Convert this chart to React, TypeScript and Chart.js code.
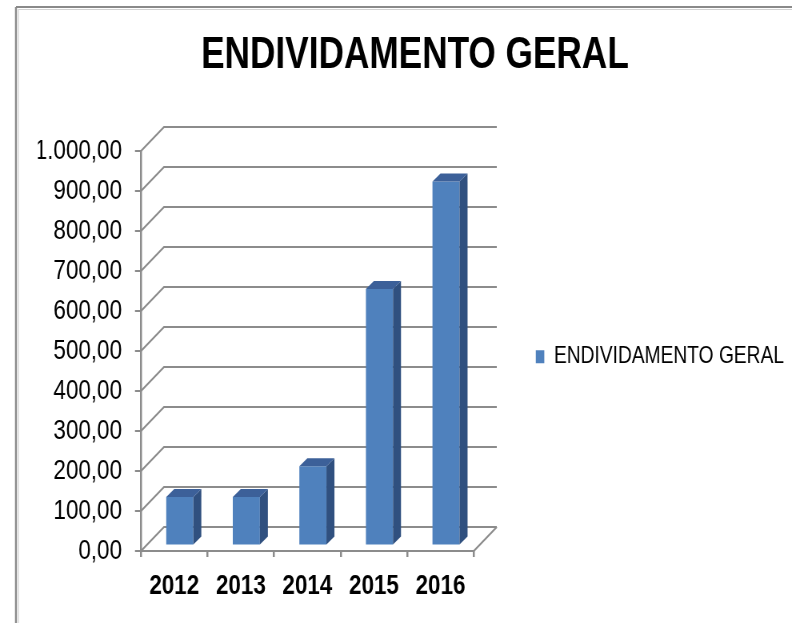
import React, { useEffect, useRef } from 'react';
import { Chart, registerables } from 'chart.js';

Chart.register(...registerables);

// ---- data ----
const categories = ['2012', '2013', '2014', '2015', '2016'];
const debtValues = [121, 121, 198, 641, 910];
const seriesLabel = 'ENDIVIDAMENTO GERAL';
const chartTitle = 'ENDIVIDAMENTO GERAL';
const yMin = 0;
const yMax = 1000;
const yStep = 100;

function formatPtBR(v: number): string {
  const fixed = Number(v).toFixed(2);
  const [intPart, dec] = fixed.split('.');
  const intFmt = intPart.replace(/\B(?=(\d{3})+(?!\d))/g, '.');
  return intFmt + ',' + dec;
}

// ---- layout / styles ----
// The canvas is drawn wider and squeezed horizontally to reproduce the
// condensed lettering of the original picture.
const CSS_W = 792;
const CSS_H = 623;
const S = 0.8;
const hx = (v: number) => v / S; // css px -> internal horizontal px
const INT_W = Math.round(CSS_W / S);

const FONT = "'Liberation Sans', Arial, sans-serif";
const GRID = '#8c8c8c';
const WALL_DX = hx(23);
const WALL_DY = 24;
const BAR_DX = hx(5.5);
const BAR_DY = 5.5;
const BAR_DEPTH_X = hx(8);
const BAR_DEPTH_Y = 8;
const FRONT = '#4F81BD';
const SIDE = '#30507f';
const TOP = '#3c6099';

const threeD = {
  id: 'threeD',
  beforeDraw(chart: any) {
    const { ctx, width, height } = chart;
    ctx.save();
    ctx.strokeStyle = '#d2d2d2';
    ctx.lineWidth = 1.2;
    ctx.beginPath();
    ctx.moveTo(hx(18.5), height);
    ctx.lineTo(hx(18.5), 9.5);
    ctx.lineTo(width, 9.5);
    ctx.stroke();
    ctx.strokeStyle = '#8a8a8a';
    ctx.beginPath();
    ctx.lineWidth = hx(2);
    ctx.moveTo(hx(16), height);
    ctx.lineTo(hx(16), 7);
    ctx.stroke();
    ctx.beginPath();
    ctx.lineWidth = 2;
    ctx.moveTo(hx(16), 7);
    ctx.lineTo(width, 7);
    ctx.stroke();
    ctx.restore();
  },
  beforeDatasetsDraw(chart: any) {
    const { ctx, chartArea: a, scales } = chart;
    const y = scales.y;
    ctx.save();
    ctx.strokeStyle = GRID;
    ctx.lineWidth = 2.2;
    for (let v = yMin; v <= yMax; v += yStep) {
      const py = y.getPixelForValue(v);
      ctx.beginPath();
      ctx.moveTo(a.left, py);
      ctx.lineTo(a.left + WALL_DX, py - WALL_DY);
      ctx.lineTo(a.right + WALL_DX, py - WALL_DY);
      ctx.stroke();
    }
    const by = y.getPixelForValue(yMin);
    ctx.beginPath();
    ctx.moveTo(a.right, by);
    ctx.lineTo(a.right + WALL_DX, by - WALL_DY);
    ctx.stroke();
    ctx.restore();
    ctx.save();
    ctx.translate(BAR_DX, -BAR_DY);
  },
  afterDatasetsDraw(chart: any) {
    const { ctx } = chart;
    const meta = chart.getDatasetMeta(0);
    meta.data.forEach((bar: any) => {
      const { x, y, base, width } = bar.getProps(['x', 'y', 'base', 'width'], true);
      const l = x - width / 2;
      const r = x + width / 2;
      const top = Math.min(y, base);
      const bot = Math.max(y, base);
      ctx.fillStyle = SIDE;
      ctx.beginPath();
      ctx.moveTo(r, top);
      ctx.lineTo(r + BAR_DEPTH_X, top - BAR_DEPTH_Y);
      ctx.lineTo(r + BAR_DEPTH_X, bot - BAR_DEPTH_Y);
      ctx.lineTo(r, bot);
      ctx.closePath();
      ctx.fill();
      ctx.fillStyle = TOP;
      ctx.beginPath();
      ctx.moveTo(l, top);
      ctx.lineTo(l + BAR_DEPTH_X, top - BAR_DEPTH_Y);
      ctx.lineTo(r + BAR_DEPTH_X, top - BAR_DEPTH_Y);
      ctx.lineTo(r, top);
      ctx.closePath();
      ctx.fill();
    });
    ctx.restore();
  },
};

export default function App() {
  const canvasRef = useRef<HTMLCanvasElement | null>(null);

  useEffect(() => {
    document.body.style.margin = '0';
    const canvas = canvasRef.current;
    if (!canvas) return;
    const chartLeft = hx(141);
    const chartRight = hx(473);
    const padLeft = hx(38);
    const legendBoxX = hx(535);
    const chart = new Chart(canvas, {
      type: 'bar',
      data: {
        labels: categories,
        datasets: [
          {
            label: seriesLabel,
            data: debtValues,
            backgroundColor: FRONT,
            borderWidth: 0,
            barPercentage: 0.407,
            categoryPercentage: 1,
            clip: false as any,
          },
        ],
      },
      options: {
        responsive: false,
        animation: false,
        devicePixelRatio: 1,
        layout: { padding: { left: padLeft, right: 0, top: 0, bottom: 0 } },
        plugins: {
          title: {
            display: true,
            text: chartTitle,
            color: '#000',
            font: { family: FONT, size: 44, weight: 'bold' },
            padding: { top: 29.6, bottom: 68.6 },
          },
          legend: {
            position: 'right',
            maxWidth: INT_W - chartRight,
            title: { display: true, text: '', padding: { top: 0, bottom: 76 } },
            labels: {
              boxWidth: hx(8.5),
              boxHeight: 13,
              padding: legendBoxX - chartRight,
              color: '#000',
              font: { family: FONT, size: 24 },
            },
          },
          tooltip: { enabled: false },
        },
        scales: {
          x: {
            grid: {
              display: true,
              drawOnChartArea: false,
              drawTicks: true,
              tickLength: 6,
              color: GRID,
              lineWidth: hx(2),
              offset: true,
            },
            border: { display: true, color: GRID, width: 2 },
            ticks: {
              color: '#000',
              font: { family: FONT, size: 28, weight: 'bold' },
              padding: 12,
              maxRotation: 0,
              autoSkip: false,
            },
            afterFit: (s: any) => {
              s.height = 72;
            },
          },
          y: {
            min: yMin,
            max: yMax,
            grid: {
              display: true,
              drawOnChartArea: false,
              drawTicks: true,
              tickLength: hx(6),
              color: GRID,
              lineWidth: 2,
            },
            border: { display: true, color: GRID, width: hx(2) },
            ticks: {
              stepSize: yStep,
              color: '#000',
              font: { family: FONT, size: 28 },
              padding: hx(13),
              callback: (v: any) => formatPtBR(Number(v)),
            },
            afterFit: (s: any) => {
              s.width = chartLeft - padLeft;
            },
          },
        },
      } as any,
      plugins: [threeD],
    });
    return () => chart.destroy();
  }, []);

  return (
    <div style={{ width: CSS_W, height: CSS_H, overflow: 'hidden' }}>
      <canvas
        ref={canvasRef}
        width={INT_W}
        height={CSS_H}
        style={{ display: 'block', width: CSS_W + 'px', height: CSS_H + 'px' }}
      />
    </div>
  );
}
